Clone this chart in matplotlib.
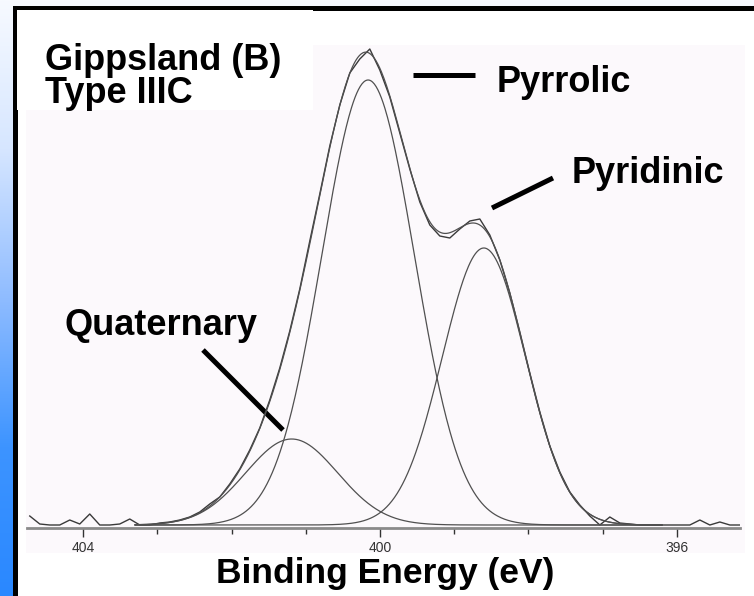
import matplotlib.pyplot as plt
import numpy as np
from matplotlib.colors import LinearSegmentedColormap
from matplotlib.patches import Rectangle
from matplotlib.lines import Line2D

plt.rcParams['font.family'] = ['Liberation Sans', 'DejaVu Sans']

# N 1s spectrum, baseline subtracted (a.u.)
energy_start, energy_stop = 404.72, 395.15
raw_counts = [9, 1, 0, 0, 5, 1, 11, 0, 0, 1, 6, 0, 0,
              2, 3, 5, 8, 13, 21, 28, 41, 56, 75, 97, 125, 157, 194,
              236, 284, 331, 379, 420, 452, 466, 476, 455, 428, 392,
              356, 323, 300, 289, 287, 296, 304, 306, 290, 265, 232,
              193, 152, 113, 79, 53, 33, 20, 9, 0, 8, 2, 1,
              0, 0, 0, 0, 0, 0, 5, 0, 3, 0, 0]

# fitted components: centre (eV), FWHM (eV), height (a.u.)
peak_names = ['Quaternary', 'Pyrrolic', 'Pyridinic']
peak_centres = [401.19, 400.16, 398.60]
peak_fwhm = [1.46, 1.47, 1.32]
peak_heights = [86, 445, 277]
fit_range = (403.3, 396.2)

major_ticks = [404, 400, 396]
minor_ticks = [403, 402, 401, 399, 398, 397]

W, H = 754, 596
fig = plt.figure(figsize=(W / 100, H / 100), dpi=100)

# page background: blue strip, black frame, white panel
bg = fig.add_axes([0, 0, 1, 1])
bg.set_xlim(0, W)
bg.set_ylim(H, 0)
bg.axis('off')
cmap = LinearSegmentedColormap.from_list(
    'side', ['#f7faff', '#d6e6ff', '#8fbcff', '#3d94ff', '#2a88ff'])
grad = np.linspace(0, 1, 256).reshape(-1, 1)
bg.imshow(grad, cmap=cmap, aspect='auto', extent=[0, W, H, 0], zorder=0)
bg.add_patch(Rectangle((14.5, 7.5), W + 20, H + 20, facecolor='white',
                       edgecolor='black', linewidth=3.6, zorder=1))
bg.add_patch(Rectangle((26, 45), 719, 508, facecolor='#fcf9fc',
                       edgecolor='none', zorder=2))
bg.add_patch(Rectangle((17, 10), 296, 100, facecolor='white',
                       edgecolor='none', zorder=3))

# leader lines for the peak labels (page pixels)
for (x0, y0), (x1, y1) in [((413, 75), (475, 75)),
                           ((492, 208), (553, 178)),
                           ((203, 350), (283, 430))]:
    bg.add_line(Line2D([x0, x1], [y0, y1], color='black',
                       linewidth=3.6, solid_capstyle='butt', zorder=4))

ax = fig.add_axes([27 / W, 1 - 528 / H, 713 / W, 488 / H])
ax.patch.set_alpha(0)

energy = np.linspace(energy_start, energy_stop, len(raw_counts))
ax.plot(energy, raw_counts, color='#3a3a3a', linewidth=1.0)

e_fit = np.linspace(fit_range[0], fit_range[1], 600)
envelope = np.zeros_like(e_fit)
for c, w, h in zip(peak_centres, peak_fwhm, peak_heights):
    sigma = w / (2 * np.sqrt(2 * np.log(2)))
    comp = h * np.exp(-(e_fit - c) ** 2 / (2 * sigma ** 2))
    envelope += comp
    ax.plot(e_fit, comp, color='#505050', linewidth=0.9)
ax.plot(e_fit, envelope, color='#505050', linewidth=0.9)

ax.set_xlim(404.757, 395.148)
ax.set_ylim(-3, 485)
for side in ['top', 'left', 'right']:
    ax.spines[side].set_visible(False)
ax.spines['bottom'].set_color('#8a8a8a')
ax.spines['bottom'].set_linewidth(2)
ax.set_yticks([])
ax.set_xticks(major_ticks)
ax.set_xticks(minor_ticks, minor=True)
ax.tick_params(axis='x', which='major', length=6.5, width=1, color='#333333',
               labelsize=10, labelcolor='#333333', pad=3)
ax.tick_params(axis='x', which='minor', length=4.5, width=1, color='#333333')


def put(text, x, y, ha='left', size=26):
    fig.text(x / W, 1 - y / H, text, ha=ha, va='baseline',
             fontsize=size, fontweight='bold', color='black')


put('Gippsland (B)', 45, 70)
put('Type IIIC', 45, 103)
put('Pyrrolic', 497, 92)
put('Pyridinic', 572, 183)
put('Quaternary', 65, 335)
put('Binding Energy (eV)', 385, 583, ha='center', size=25.5)

fig.savefig('out.png', dpi=100)
